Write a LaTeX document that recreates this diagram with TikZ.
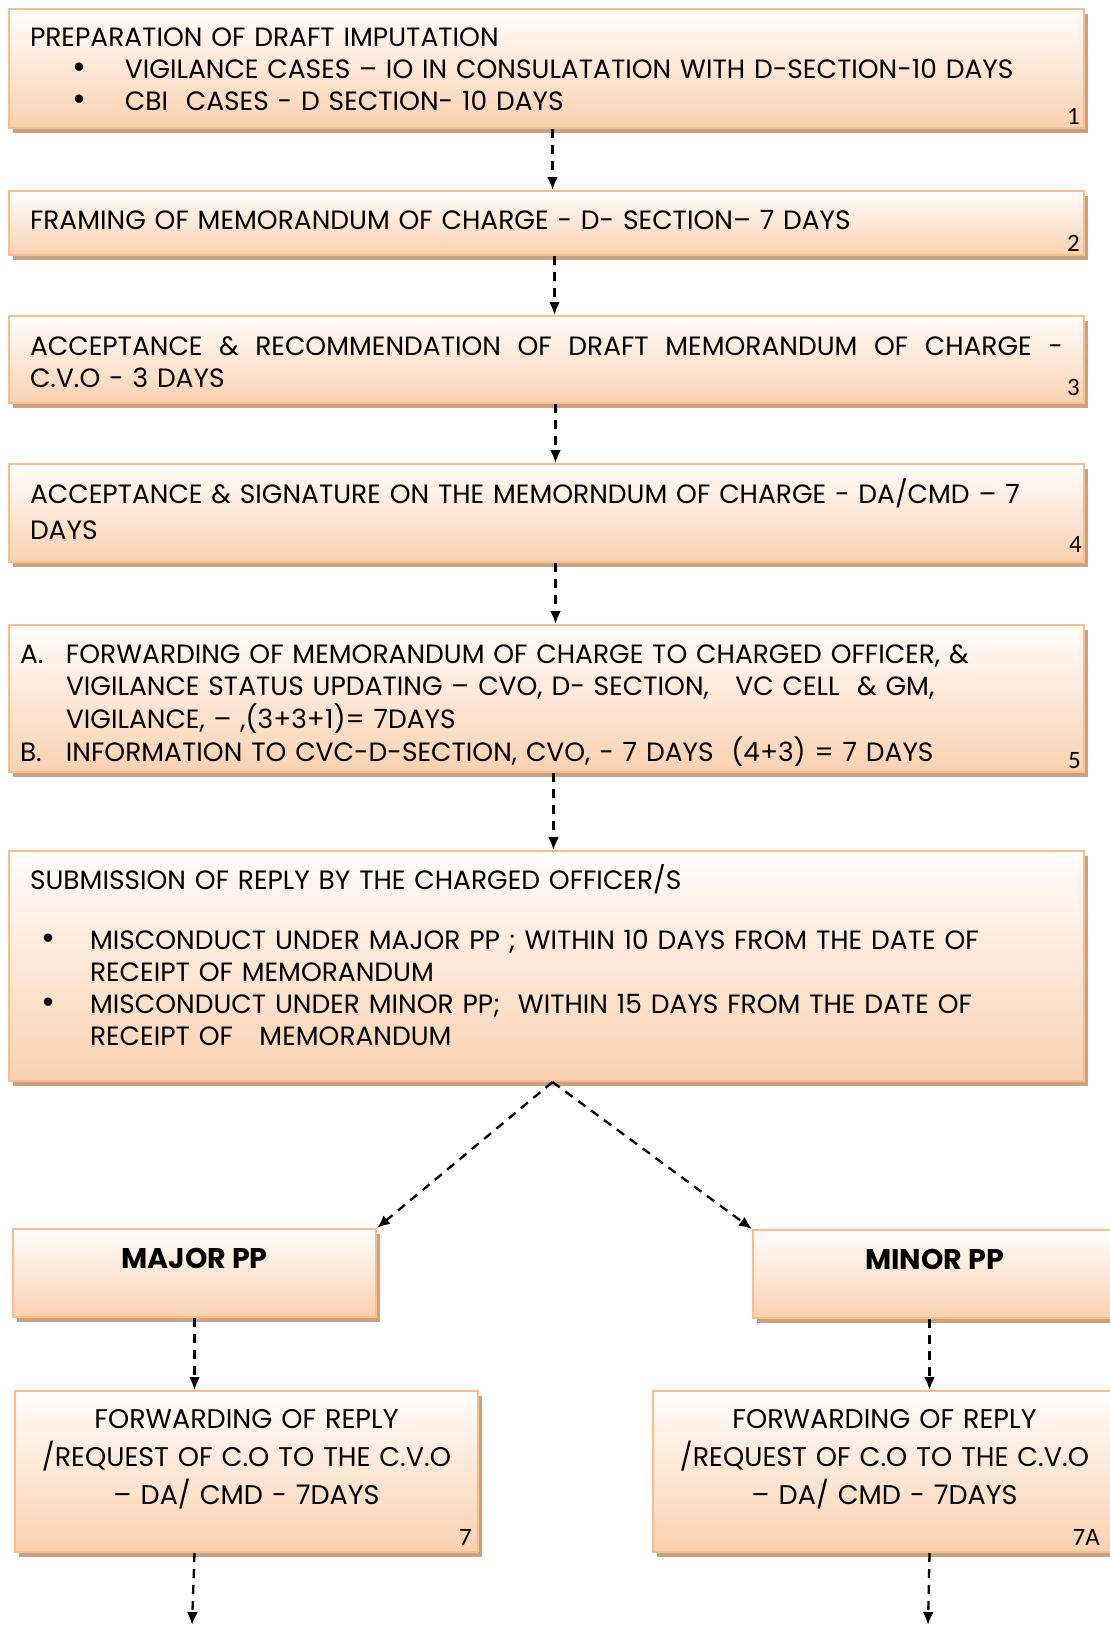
\documentclass[tikz,border=0pt]{standalone}
\usepackage{fontspec}
\setmainfont{Poppins}
\newfontfamily\numfont{Carlito}
\usetikzlibrary{shadows,arrows.meta}

\definecolor{peachline}{RGB}{249,190,140}
\definecolor{peachtop}{RGB}{255,253,251}
\definecolor{peachbot}{RGB}{250,209,176}
\definecolor{peachshadow}{RGB}{203,162,128}

\newcommand{\boxfont}{\fontsize{26.5}{32}\selectfont}
\newcommand{\bul}[1]{\makebox[#1][l]{\fontsize{34}{32}\selectfont\textbullet}}

\begin{document}
\begin{tikzpicture}[x=1pt, y=-1pt,
    stepbox/.style={draw=peachline, line width=2pt, top color=peachtop,
        bottom color=peachbot, anchor=north west, inner ysep=0pt,
        align=left, font=\boxfont,
        drop shadow={shadow xshift=4pt, shadow yshift=-5pt,
            fill=peachshadow, opacity=1}},
    numtag/.style={font=\numfont\fontsize{25}{26}\selectfont, inner sep=0pt,
        anchor=base east},
    flow/.style={->, >={Latex[length=13pt,width=11pt]}, dashed, line width=2.3pt,
        dash pattern=on 9pt off 7pt}]

    \useasboundingbox (0,0) rectangle (1110,1625);

    \node[stepbox, minimum width=1075, minimum height=119, inner xsep=21,
        text width=1033, text height=37.5pt, text depth=81.5pt] (b1) at (8,8)
    {PREPARATION OF DRAFT IMPUTATION\\
    \hspace*{43pt}\bul{52pt}VIGILANCE CASES – IO IN CONSULATATION WITH D-SECTION-10 DAYS\\
    \hspace*{43pt}\bul{52pt}CBI\ \ CASES - D SECTION- 10 DAYS};

    \node[stepbox, minimum width=1075, minimum height=64, inner xsep=21,
        text width=1033, text height=38pt, text depth=26pt] (b2) at (8,190)
    {FRAMING OF MEMORANDUM OF CHARGE - D- SECTION– 7 DAYS};

    \node[stepbox, minimum width=1075, minimum height=87, inner xsep=21,
        text width=1033, text height=39pt, text depth=48pt] (b3) at (8,315)
    {\hbox to 1033pt{ACCEPTANCE\hfill\&\hfill RECOMMENDATION\hfill OF\hfill
    DRAFT\hfill MEMORANDUM\hfill OF\hfill CHARGE\hfill -}\\
    C.V.O - 3 DAYS};

    \node[stepbox, minimum width=1075, minimum height=98, inner xsep=21,
        text width=1033, text height=39pt, text depth=59pt] (b4) at (8,463)
    {ACCEPTANCE \& SIGNATURE ON THE MEMORNDUM OF CHARGE - DA/CMD – 7\\[4pt]
    DAYS};

    \node[stepbox, minimum width=1075, minimum height=147, inner xsep=11,
        text width=1053, text height=38pt, text depth=109pt,
        font=\fontsize{26.5}{32.8}\selectfont] (b5) at (8,624)
    {\makebox[46pt][l]{A.}FORWARDING OF MEMORANDUM OF CHARGE TO CHARGED OFFICER, \&\\
    \hspace*{46pt}VIGILANCE STATUS UPDATING – CVO, D- SECTION,\ \ \ VC CELL\ \ \& GM,\\
    \hspace*{46pt}VIGILANCE, – ,(3+3+1)= 7DAYS\\
    \makebox[46pt][l]{B.}INFORMATION TO CVC-D-SECTION, CVO, - 7 DAYS\ \ (4+3) = 7 DAYS};

    \node[stepbox, minimum width=1075, minimum height=230, inner xsep=21,
        text width=1033, text height=38pt, text depth=192pt] (b6) at (8,850)
    {SUBMISSION OF REPLY BY THE CHARGED OFFICER/S\\[28pt]
    \hspace*{11pt}\bul{49pt}MISCONDUCT UNDER MAJOR PP ; WITHIN 10 DAYS FROM THE DATE OF\\
    \hspace*{60pt}RECEIPT OF MEMORANDUM\\
    \hspace*{11pt}\bul{49pt}MISCONDUCT UNDER MINOR PP;\ \ WITHIN 15 DAYS FROM THE DATE OF\\
    \hspace*{60pt}RECEIPT OF\ \ \ MEMORANDUM};

    \node[stepbox, minimum width=363, minimum height=88, text height=39pt,
        text depth=49pt, align=center,
        font=\fontsize{28.5}{32}\selectfont\bfseries] (major) at (12,1228)
    {MAJOR PP};
    \node[stepbox, minimum width=363, minimum height=88, text height=39pt,
        text depth=49pt, align=center,
        font=\fontsize{28.5}{32}\selectfont\bfseries] (minor) at (752,1229)
    {MINOR PP};

    \node[stepbox, minimum width=463, minimum height=161, inner xsep=10,
        text width=443, align=center, text height=37pt, text depth=124pt,
        font=\fontsize{27}{38}\selectfont] (fwdA) at (14,1390)
    {FORWARDING OF REPLY\\ /REQUEST OF C.O TO THE C.V.O\\ – DA/ CMD - 7DAYS};
    \node[stepbox, minimum width=463, minimum height=161, inner xsep=10,
        text width=443, align=center, text height=37pt, text depth=124pt,
        font=\fontsize{27}{38}\selectfont] (fwdB) at (652,1390)
    {FORWARDING OF REPLY\\ /REQUEST OF C.O TO THE C.V.O\\ – DA/ CMD - 7DAYS};

    % step numbers
    \node[numtag] (n1) at ([xshift=-5pt, yshift=5pt]b1.south east) {1};
    \node[numtag] (n2) at ([xshift=-5pt, yshift=4.5pt]b2.south east) {2};
    \node[numtag] (n3) at ([xshift=-5pt, yshift=8.5pt]b3.south east) {3};
    \node[numtag] (n4) at ([xshift=-3pt, yshift=11pt]b4.south east) {4};
    \node[numtag] (n5) at ([xshift=-4pt, yshift=4.5pt]b5.south east) {5};
    \node[numtag] (n7) at ([xshift=-7pt, yshift=8pt]fwdA.south east) {7};
    \node[numtag] (n7a) at ([xshift=-17pt, yshift=8pt]fwdB.south east) {7A};

    \coordinate (endA) at (192,1625);
    \coordinate (endB) at (928,1625);

    \draw[flow] ([xshift=6pt]b1.south) -- ([xshift=6pt]b2.north);
    \draw[flow] ([xshift=8pt]b2.south) -- ([xshift=8pt]b3.north);
    \draw[flow] ([xshift=9pt]b3.south) -- ([xshift=9pt]b4.north);
    \draw[flow] ([xshift=9pt]b4.south) -- ([xshift=9pt]b5.north);
    \draw[flow] ([xshift=7pt]b5.south) -- ([xshift=7pt]b6.north);
    \draw[flow] ([xshift=6pt]b6.south) -- (major.north east);
    \draw[flow] ([xshift=6pt]b6.south) -- (minor.north west);
    \draw[flow] (major.south) -- (major.south |- fwdA.north);
    \draw[flow] ([xshift=-5pt]minor.south) -- ([xshift=-5pt]minor.south |- fwdB.north);
    \draw[flow] (major.south |- fwdA.south) -- (endA);
    \draw[flow] ([xshift=-5pt]minor.south |- fwdB.south) -- (endB);

\end{tikzpicture}
\end{document}
